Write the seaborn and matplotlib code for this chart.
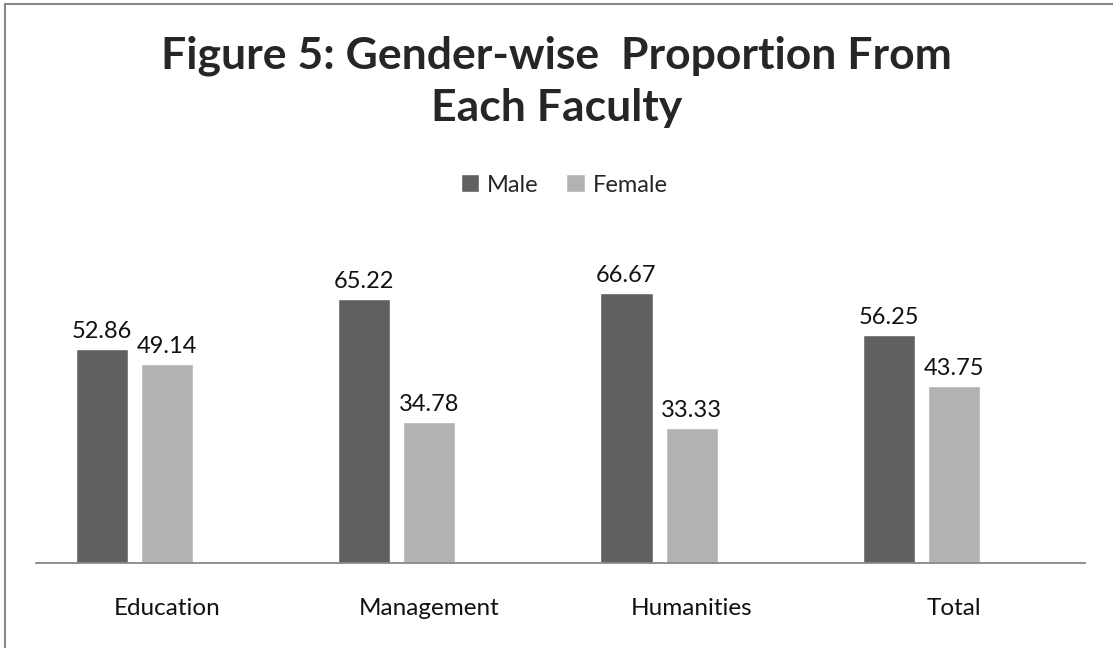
import pandas as pd
import matplotlib.pyplot as plt
import seaborn as sns
from matplotlib.patches import Patch
from matplotlib.lines import Line2D

# --- datos ---
facultades = ['Education', 'Management', 'Humanities', 'Total']
male = [52.86, 65.22, 66.67, 56.25]
female = [49.14, 34.78, 33.33, 43.75]

df = pd.DataFrame({
    'Faculty': facultades * 2,
    'Gender': ['Male'] * len(facultades) + ['Female'] * len(facultades),
    'Value': male + female,
})

color_male = '#606060'
color_female = '#b2b2b2'

sns.set_style("white")
plt.rcParams['font.family'] = ['Lato', 'DejaVu Sans']

fig = plt.figure(figsize=(11.13, 6.48), dpi=100)
ax = fig.add_axes([36 / 1113, 1 - 563 / 648, (1085 - 36) / 1113, (563 - 239) / 648])

# tercera serie vacia (como en Excel) para que las barras queden corridas a la izquierda
sns.barplot(data=df, x='Faculty', y='Value', hue='Gender',
            hue_order=['Male', 'Female', 'blank'],
            palette=[color_male, color_female, 'white'],
            width=0.745, gap=0.2, ax=ax, legend=False, saturation=1)

for cont in ax.containers:
    ax.bar_label(cont, fmt='%.2f', padding=5, fontsize=17, color='#111111')

ax.set_ylim(0, 80)
ax.set_xlim(-0.5, 3.5)
ax.set_xlabel('')
ax.set_ylabel('')
ax.set_yticks([])
for s in ['top', 'right', 'left']:
    ax.spines[s].set_visible(False)
ax.spines['bottom'].set_color('#888888')
ax.spines['bottom'].set_linewidth(1.3)
ax.tick_params(axis='x', length=0, pad=25, labelsize=17.5, labelcolor='#111111')

fig.suptitle('Figure 5: Gender-wise  Proportion From\nEach Faculty',
             x=0.5, y=1 - 36 / 648, fontsize=32, fontweight='bold',
             linespacing=1.35, va='top')

handles = [Patch(facecolor=color_male, label='Male'),
           Patch(facecolor=color_female, label='Female')]
fig.legend(handles=handles, loc='center', bbox_to_anchor=(564 / 1113, 1 - 185 / 648),
           ncol=2, frameon=False, fontsize=17, handlelength=0.8, handleheight=0.8,
           handletextpad=0.3, columnspacing=1.2)

# borde gris del grafico (izquierda y arriba)
fig.add_artist(Line2D([5 / 1113, 5 / 1113], [0, 1 - 4 / 648], transform=fig.transFigure,
                      color='#888888', lw=1.5))
fig.add_artist(Line2D([5 / 1113, 1], [1 - 4 / 648, 1 - 4 / 648], transform=fig.transFigure,
                      color='#888888', lw=1.5))

fig.savefig('out.png', dpi=100)
